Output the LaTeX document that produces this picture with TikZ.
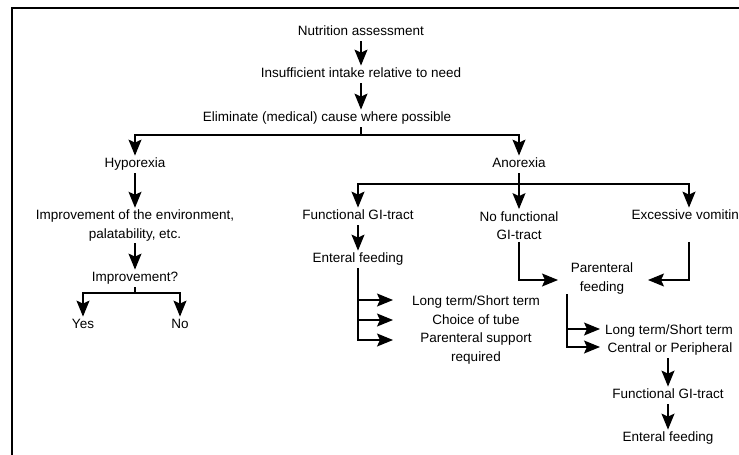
\documentclass[tikz,border=0pt]{standalone}
\usepackage{fontspec}
\setmainfont{Liberation Sans}
\usetikzlibrary{arrows.meta}
\begin{document}
\begin{tikzpicture}[x=1pt,y=-1pt,
  base/.style={font=\fontsize{13.5}{18.5}\selectfont, align=center, inner sep=2pt},
  txt/.style={base, text height=10pt, text depth=3pt},
  txtm/.style={base},
  conn/.style={line width=1.3pt},
  arr/.style={conn, -{Stealth[length=16pt,width=13pt,inset=3pt]}},
  frame/.style={line width=2.2pt}]
\useasboundingbox (0,0) rectangle (739,455);
\clip (0,0) rectangle (739,455);
\draw[frame] (12,460) -- (12,8) -- (745,8);
% nodes
\node[txt] (na) at (361,32.3) {Nutrition assessment};
\node[txt] (ii) at (361,74.3) {Insufficient intake relative to need};
\node[txt] (el) at (327,118.3) {Eliminate (medical) cause where possible};
\node[txt] (hy) at (135,164.3) {Hyporexia};
\node[txt] (an) at (519,164.3) {Anorexia};
\node[txtm] (ie) at (135,225.5) {Improvement of the environment,\\palatability, etc.};
\node[txt] (im) at (135,278.3) {Improvement?};
\node[txt] (yes) at (83,325.3) {Yes};
\node[txt] (no) at (180,325.3) {No};
\node[txt] (fg) at (358,216.3) {Functional GI-tract};
\node[txtm] (nf) at (519,225.5) {No functional\\GI-tract};
\node[txt] (ev) at (689,216.3) {Excessive vomiting};
\node[txt] (ef) at (358,259.3) {Enteral feeding};
\node[txt] (lt1) at (476,302.3) {Long term/Short term};
\node[txt] (ct) at (476,321.3) {Choice of tube};
\node[txtm] (ps) at (476,348.5) {Parenteral support\\required};
\node[txtm] (pf) at (602,278.5) {Parenteral\\feeding};
\node[txt] (lt2) at (669,331.3) {Long term/Short term};
\node[txt] (cp) at (670,349.3) {Central or Peripheral};
\node[txt] (fg2) at (668,395.3) {Functional GI-tract};
\node[txt] (ef2) at (668,438.3) {Enteral feeding};
% junction coordinates
\coordinate (j1) at (361,135);
\coordinate (j2) at (135,293);
\coordinate (j3) at (519,184);
\coordinate (e1) at (393,300);
\coordinate (e2) at (393,320);
\coordinate (e3) at (393,340);
\coordinate (p1) at (558,280);
\coordinate (p2) at (648,280);
\coordinate (pv) at (567,294);
\coordinate (q1) at (600,329);
\coordinate (q2) at (600,347);
% connectors
\draw[arr] (na.south) -- (ii.north);
\draw[arr] (ii.south) -- (ii.south |- el.north);
\draw[conn] (el.south -| j1) -- (j1);
\draw[arr] (j1) -| (hy.north);
\draw[arr] (j1) -| (an.north);
\draw[arr] (hy.south) -- (ie.north);
\draw[arr] (ie.south) -- (im.north);
\draw[conn] (im.south) -- (j2);
\draw[arr] (j2) -| (yes.north);
\draw[arr] (j2) -| (no.north);
\draw[conn] (an.south) -- (j3);
\draw[arr] (j3) -| (fg.north);
\draw[arr] (j3) -- (nf.north);
\draw[arr] (j3) -| (ev.north);
\draw[arr] (fg.south) -- (ef.north);
\draw[arr] (ef.south) |- (e3);
\draw[arr] (ef.south |- e1) -- (e1);
\draw[arr] (ef.south |- e2) -- (e2);
\draw[arr] (nf.south) |- (p1);
\draw[arr] (ev.south |- nf.south) |- (p2);
\draw[arr] (pv) |- (q2);
\draw[arr] (pv |- q1) -- (q1);
\draw[arr] (fg2.north |- cp.south) -- (fg2.north);
\draw[arr] (fg2.south) -- (ef2.north);
\end{tikzpicture}
\end{document}
